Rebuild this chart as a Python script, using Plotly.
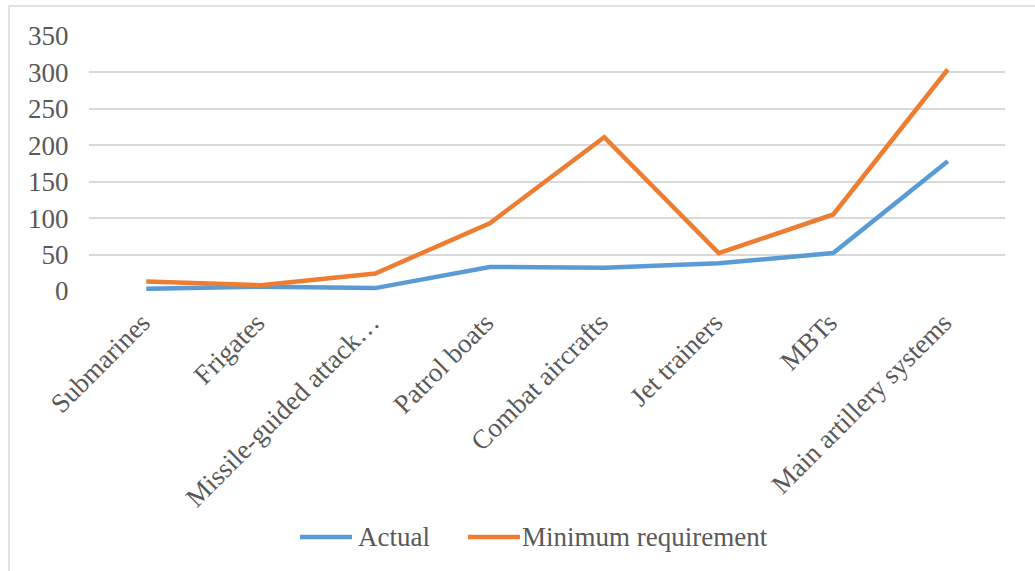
import plotly.graph_objects as go

categories = ["Submarines", "Frigates", "Missile-guided attack…", "Patrol boats",
              "Combat aircrafts", "Jet trainers", "MBTs", "Main artillery systems"]
actual = [3, 6, 4, 33, 32, 38, 52, 178]
minimum_requirement = [13, 8, 24, 93, 211, 52, 105, 304]
y_ticks = [0, 50, 100, 150, 200, 250, 300, 350]
series_names = ["Actual", "Minimum requirement"]
series_colors = ["#5B9BD5", "#ED7D31"]

W, H = 1035, 571
L, R, T, B = 89, 1005, 36, 291
pw, ph = R - L, B - T

def px_x(x):
    return (x - L) / pw

def px_y(y):
    return (B - y) / ph

fig = go.Figure()
for name, vals, col in zip(series_names, [actual, minimum_requirement], series_colors):
    fig.add_trace(go.Scatter(x=categories, y=vals, mode="lines", name=name,
                             line=dict(color=col, width=4.5), showlegend=False))

font = dict(family="Liberation Serif", size=27, color="#595959")

shapes = [dict(type="rect", xref="paper", yref="paper",
               x0=px_x(9), x1=px_x(W + 20), y0=px_y(H + 20), y1=px_y(6),
               line=dict(color="#D9D9D9", width=1.5), layer="below")]
annotations = []
legend_items = [(300, 352, 356), (468, 520, 520)]
for (lx0, lx1, tx), name, col in zip(legend_items, series_names, series_colors):
    shapes.append(dict(type="line", xref="paper", yref="paper",
                       x0=px_x(lx0), x1=px_x(lx1), y0=px_y(537), y1=px_y(537),
                       line=dict(color=col, width=4.5)))
    annotations.append(dict(xref="paper", yref="paper", x=px_x(tx), y=px_y(537),
                            xanchor="left", yanchor="middle", text=name,
                            showarrow=False, font=font))

fig.update_layout(
    width=W, height=H,
    margin=dict(l=L, r=W - R, t=T, b=H - B, pad=0),
    paper_bgcolor="white", plot_bgcolor="white",
    font=font,
    showlegend=False,
    xaxis=dict(type="category", tickangle=-45, showgrid=False, showline=False,
               ticks="outside", ticklen=4, tickcolor="rgba(0,0,0,0)",
               ticklabelshift=-4,
               tickfont=font, range=[-0.5, 7.5], zeroline=False),
    yaxis=dict(range=[0, 350], tickvals=y_ticks, showgrid=True,
               gridcolor="#D9D9D9", gridwidth=1.5, zeroline=False,
               showline=False, tickfont=font, ticks="outside", ticklen=14,
               tickcolor="rgba(0,0,0,0)"),
    shapes=shapes,
    annotations=annotations,
)

fig.write_html("out.html")
